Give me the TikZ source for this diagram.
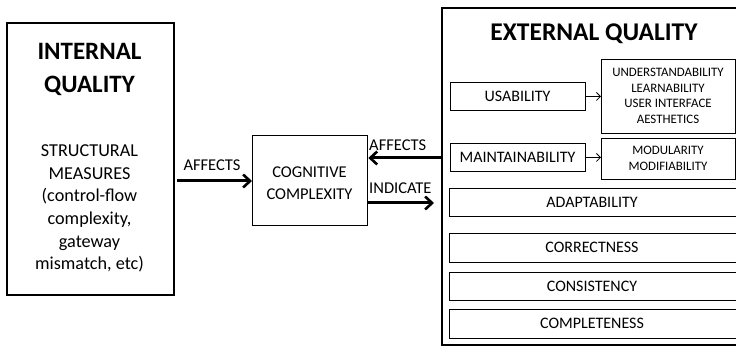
\documentclass[tikz,border=0pt]{standalone}
\usepackage{fontspec}
\setmainfont{Carlito}
\usetikzlibrary{arrows.meta}
\begin{document}
\begin{tikzpicture}[x=1pt,y=-1pt,
  bigbox/.style={draw,line width=2.2pt,anchor=north west,inner sep=0pt},
  smallbox/.style={draw,line width=0.9pt,anchor=north west,inner sep=0pt},
  bigarrow/.style={line width=3pt,-{Straight Barb[length=7pt,width=13pt,line width=2.6pt]}},
  thinarrow/.style={line width=0.8pt,-{Straight Barb[length=4pt,width=8pt]}},
  title/.style={font=\fontsize{25}{33}\selectfont\bfseries,align=center,inner sep=0pt},
  body/.style={font=\fontsize{18.2}{22.6}\selectfont,align=center,inner sep=0pt},
  mid/.style={font=\fontsize{16.5}{22}\selectfont,align=center,inner sep=0pt},
  boxtext/.style={font=\fontsize{16}{18}\selectfont,inner sep=0pt},
  subtext/.style={font=\fontsize{12.9}{15.7}\selectfont,align=center,inner sep=0pt}]
\useasboundingbox (0,0) rectangle (736,347);
\fill[white] (0,0) rectangle (736,347);
% internal quality
\node[bigbox,minimum width=167pt,minimum height=272pt] (internal) at (6,22) {};
\node[title] (inttitle) at (89.5,69) {INTERNAL\\QUALITY};
\node[body] (intbody) at (89.5,208.5) {STRUCTURAL\\MEASURES\\(control-flow\\complexity,\\gateway\\mismatch, etc)};
% cognitive complexity
\node[draw,line width=1.3pt,anchor=north west,minimum width=115pt,minimum height=90pt,inner sep=0pt] (cog) at (252,135) {};
\node[mid] (cogtext) at (309.5,183.5) {COGNITIVE\\COMPLEXITY};
% external quality
\node[bigbox,minimum width=305pt,minimum height=337pt] (ext) at (441,7) {};
\node[font=\fontsize{25.5}{28}\selectfont\bfseries,inner sep=0pt] (exttitle) at (594,34) {EXTERNAL QUALITY};
\node[smallbox,minimum width=135pt,minimum height=28pt] (usab) at (450,82) {};
\node[boxtext] (usabt) at (517.5,96) {USABILITY};
\node[smallbox,minimum width=134pt,minimum height=74pt] (sub1) at (601,59) {};
\node[subtext] (sub1t) at (668,96) {UNDERSTANDABILITY\\LEARNABILITY\\USER INTERFACE\\AESTHETICS};
\node[smallbox,minimum width=135pt,minimum height=28pt] (maint) at (450,143) {};
\node[boxtext] (maintt) at (517.5,157) {MAINTAINABILITY};
\node[smallbox,minimum width=134pt,minimum height=41pt] (sub2) at (601,138) {};
\node[subtext] (sub2t) at (668,158.5) {MODULARITY\\MODIFIABILITY};
\node[smallbox,minimum width=290pt,minimum height=28pt] (adapt) at (449,188) {};
\node[boxtext] (adaptt) at (592,202) {ADAPTABILITY};
\node[smallbox,minimum width=290pt,minimum height=29pt] (corr) at (449,233) {};
\node[boxtext] (corrt) at (592,247.5) {CORRECTNESS};
\node[smallbox,minimum width=290pt,minimum height=28pt] (cons) at (449,272) {};
\node[boxtext] (const) at (592,286) {CONSISTENCY};
\node[smallbox,minimum width=290pt,minimum height=29pt] (compl) at (449,309) {};
\node[boxtext] (complt) at (592,323.5) {COMPLETENESS};
% thin arrows
\draw[thinarrow] (usab.east) -- (usab.east -| sub1.west);
\draw[thinarrow] (maint.east) -- (maint.east -| sub2.west);
% big arrows
\coordinate (a1s) at (177,181);
\draw[bigarrow] (a1s) -- (a1s -| cog.west);
\node[mid,anchor=south] (lab1) at (212,171) {AFFECTS};
\coordinate (a2s) at (441,158);
\draw[bigarrow] (a2s) -- (a2s -| cog.east);
\node[mid,anchor=south west] (lab2) at (369,151) {AFFECTS};
\coordinate (a3e) at (434,203);
\draw[bigarrow] (a3e -| cog.east) -- (a3e);
\node[mid,anchor=south west] (lab3) at (369,194) {INDICATE};
\end{tikzpicture}
\end{document}
